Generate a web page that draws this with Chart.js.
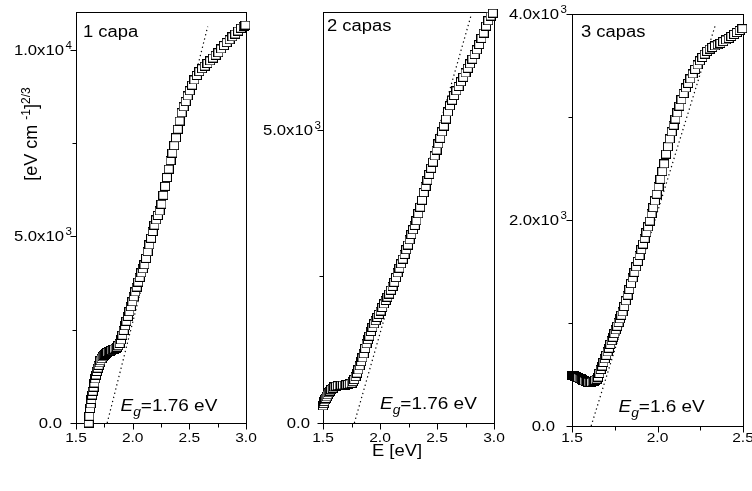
<!DOCTYPE html>
<html><head><meta charset="utf-8">
<script src="https://cdn.jsdelivr.net/npm/chart.js@4.4.0/dist/chart.umd.min.js"></script>
<style>
html,body{margin:0;padding:0;background:#fff;}
#wrap{position:relative;width:752px;height:491px;overflow:hidden;background:#fff;}
canvas{position:absolute;left:0;top:0;}
</style></head><body>
<div id="wrap">
<canvas id="c1" width="752" height="491"></canvas>
<canvas id="c2" width="752" height="491"></canvas>
<canvas id="c3" width="752" height="491"></canvas>
</div>
<script>
// ---------- data: panel 1 (1 capa) ----------
const E1 = [1.612,1.618,1.624,1.630,1.636,1.642,1.648,1.655,1.662,1.669,1.676,1.684,1.692,1.700,1.708,1.716,1.725,1.735,1.745,1.755,1.765,1.777,1.789,1.801,1.813,1.825,1.837,1.849,1.861,1.873,1.885,1.897,1.909,1.921,1.933,1.945,1.958,1.971,1.984,1.997,2.010,2.023,2.036,2.049,2.062,2.076,2.090,2.104,2.118,2.132,2.147,2.162,2.177,2.192,2.207,2.222,2.238,2.254,2.270,2.286,2.302,2.318,2.334,2.350,2.366,2.382,2.398,2.414,2.432,2.450,2.468,2.486,2.504,2.524,2.544,2.566,2.588,2.612,2.636,2.660,2.684,2.708,2.732,2.756,2.780,2.805,2.830,2.855,2.880,2.905,2.930,2.955,2.980,2.995];
const Y1 = [0,180,390,510,630,750,850,960,1070,1180,1285,1380,1470,1545,1610,1665,1720,1770,1810,1845,1867,1890,1910,1925,1942,1958,1980,2005,2035,2070,2130,2224,2350,2480,2605,2725,2855,2983,3115,3245,3380,3510,3640,3775,3900,4020,4130,4240,4410,4590,4770,4948,5130,5300,5440,5560,5680,5860,6100,6340,6575,6800,7030,7230,7430,7640,7870,8090,8310,8470,8610,8760,8900,9050,9189,9310,9412,9490,9560,9630,9700,9775,9850,9920,10020,10110,10190,10265,10345,10420,10500,10575,10630,10660];
// ---------- data: panel 2 (2 capas) ----------
const E2 = [1.500,1.506,1.512,1.518,1.524,1.532,1.540,1.550,1.560,1.572,1.585,1.600,1.615,1.630,1.645,1.660,1.675,1.690,1.705,1.720,1.735,1.750,1.762,1.774,1.786,1.798,1.810,1.822,1.834,1.846,1.858,1.870,1.882,1.894,1.906,1.920,1.934,1.948,1.962,1.976,1.990,2.005,2.020,2.035,2.050,2.065,2.080,2.095,2.110,2.125,2.140,2.155,2.170,2.185,2.200,2.215,2.230,2.245,2.260,2.275,2.290,2.305,2.320,2.336,2.352,2.368,2.384,2.400,2.416,2.432,2.448,2.464,2.480,2.496,2.512,2.528,2.544,2.560,2.578,2.596,2.614,2.632,2.650,2.670,2.690,2.710,2.730,2.750,2.770,2.790,2.810,2.830,2.850,2.870,2.890,2.910,2.930,2.950,2.970,2.990];
const Y2 = [290,330,365,395,420,445,480,515,545,570,595,615,628,636,641,644,646,648,652,658,666,678,705,740,790,850,905,975,1045,1110,1180,1270,1350,1420,1480,1560,1630,1690,1745,1800,1852,1910,1970,2030,2090,2145,2200,2265,2330,2400,2480,2560,2640,2715,2795,2875,2955,3035,3125,3215,3295,3370,3450,3570,3680,3800,3930,4035,4140,4240,4345,4450,4555,4655,4760,4855,4965,5065,5185,5305,5410,5505,5585,5665,5740,5820,5895,5970,6050,6125,6205,6285,6365,6455,6560,6650,6770,6860,6940,6990];
// ---------- data: panel 3 (3 capas) ----------
const E3 = [1.500,1.506,1.512,1.518,1.524,1.530,1.537,1.544,1.551,1.558,1.565,1.572,1.580,1.588,1.596,1.604,1.612,1.620,1.628,1.636,1.644,1.652,1.660,1.668,1.676,1.684,1.692,1.700,1.708,1.716,1.724,1.732,1.740,1.748,1.756,1.764,1.772,1.780,1.788,1.796,1.805,1.815,1.825,1.835,1.845,1.855,1.865,1.875,1.885,1.895,1.905,1.915,1.925,1.935,1.945,1.955,1.965,1.975,1.985,1.995,2.006,2.017,2.028,2.039,2.050,2.061,2.072,2.083,2.094,2.105,2.116,2.128,2.140,2.153,2.166,2.179,2.192,2.206,2.220,2.234,2.248,2.262,2.276,2.290,2.305,2.320,2.336,2.352,2.368,2.384,2.400,2.416,2.432,2.448,2.464,2.480,2.496];
const Y3 = [490,490,487,484,480,475,470,465,460,452,445,438,432,428,425,423,424,428,435,445,455,475,510,548,582,617,652,686,719,755,792,828,862,897,933,968,1004,1040,1075,1108,1160,1215,1270,1325,1382,1437,1492,1545,1598,1655,1712,1766,1822,1878,1933,1990,2062,2120,2185,2250,2323,2395,2470,2545,2640,2712,2787,2856,2920,2980,3040,3105,3168,3228,3282,3326,3370,3418,3462,3505,3545,3578,3610,3637,3660,3675,3690,3702,3715,3732,3748,3763,3782,3802,3820,3840,3858];
// ---------- tangent (band-gap) lines ----------
const tanE1 = [1.775, 2.662], tanY1 = [0, 10617];
const tanE2 = [1.775, 2.800], tanY2 = [0, 6960];
const tanE3 = [1.612, 2.337], tanY3 = [0, 3886];
// ---------- texts & ticks ----------
const panelTitles = ['1 capa', '2 capas', '3 capas'];
const gapValues = ['1.76', '1.76', '1.6'];
const xTitle = 'E [eV]';
const xTicks1 = [1.5, 2.0, 2.5, 3.0], xTickLabels1 = ['1.5','2.0','2.5','3.0'], xMinor1 = [1.75, 2.25, 2.75];
const xTicks2 = [1.5, 2.0, 2.5, 3.0], xTickLabels2 = ['1.5','2.0','2.5','3.0'], xMinor2 = [1.75, 2.25, 2.75];
const xTicks3 = [1.5, 2.0, 2.5], xTickLabels3 = ['1.5','2.0','2.5'], xMinor3 = [1.75, 2.25];
const yTicks1 = [0, 5000, 10000], yTickLabels1 = ['0.0','5.0x10^3','1.0x10^4'], yMinor1 = [2500, 7500];
const yTicks2 = [0, 5000], yTickLabels2 = ['0.0','5.0x10^3'], yMinor2 = [2500];
const yTicks3 = [0, 2000, 4000], yTickLabels3 = ['0.0','2.0x10^3','4.0x10^3'], yMinor3 = [1000, 3000];

const FONT = '"Liberation Sans", Arial, Helvetica, sans-serif';
const SX = 1.15;

// open-square marker (slightly wider than tall, as in the original)
const marker = document.createElement('canvas');
marker.width = 10; marker.height = 9;
(function () {
  const m = marker.getContext('2d');
  m.fillStyle = '#fff'; m.fillRect(0, 0, 10, 9);
  m.strokeStyle = '#000'; m.lineWidth = 1; m.strokeRect(0.5, 0.5, 9, 8);
})();

function richWidth(ctx, segs) {
  let w = 0;
  for (const s of segs) { ctx.font = (s.it ? 'italic ' : '') + s.sz + 'px ' + FONT; w += ctx.measureText(s.t).width * SX; }
  return w;
}
function rich(ctx, segs, x, y, align) {
  const w = richWidth(ctx, segs);
  let cx = align === 'right' ? x - w : align === 'center' ? x - w / 2 : x;
  ctx.fillStyle = '#000'; ctx.textAlign = 'left'; ctx.textBaseline = 'alphabetic';
  for (const s of segs) {
    ctx.font = (s.it ? 'italic ' : '') + s.sz + 'px ' + FONT;
    const sw = ctx.measureText(s.t).width * SX;
    ctx.save(); ctx.translate(cx + (s.dx || 0), y + (s.dy || 0)); ctx.scale(SX, 1); ctx.fillText(s.t, 0, 0); ctx.restore();
    cx += sw + (s.dx || 0);
  }
  return w;
}
function labelSegs(lbl) {
  const p = lbl.split('^');
  const segs = [{t: p[0], sz: 14.5}];
  if (p[1]) segs.push({t: p[1], sz: 10, dy: -6, dx: 1.5});
  return segs;
}

function makePlugin(cfg) {
  return {
    id: 'origin' + cfg.idx,
    beforeDatasetsDraw(chart) {
      const ctx = chart.ctx, a = chart.chartArea;
      const xs = chart.scales.x, ys = chart.scales.y;
      ctx.save();
      ctx.strokeStyle = '#000'; ctx.lineWidth = 1;
      ctx.strokeRect(Math.round(a.left) + 0.5, Math.round(a.top) + 0.5, Math.round(a.right - a.left), Math.round(a.bottom - a.top));
      const B = Math.round(a.bottom) + 0.5, L = Math.round(a.left) + 0.5;
      ctx.beginPath();
      cfg.xTicks.forEach(v => { const px = Math.round(xs.getPixelForValue(v)) + 0.5; ctx.moveTo(px, B); ctx.lineTo(px, B + 6); });
      cfg.xMinor.forEach(v => { const px = Math.round(xs.getPixelForValue(v)) + 0.5; ctx.moveTo(px, B); ctx.lineTo(px, B + 4); });
      cfg.yTicks.forEach(v => { const py = Math.round(ys.getPixelForValue(v)) + 0.5; ctx.moveTo(L, py); ctx.lineTo(L - 6, py); });
      cfg.yMinor.forEach(v => { const py = Math.round(ys.getPixelForValue(v)) + 0.5; ctx.moveTo(L, py); ctx.lineTo(L - 4, py); });
      ctx.stroke();
      cfg.xTicks.forEach((v, i) => rich(ctx, [{t: cfg.xLabels[i], sz: 13.5}], xs.getPixelForValue(v), 442, 'center'));
      cfg.yTicks.forEach((v, i) => {
        const segs = labelSegs(cfg.yLabels[i]);
        const py = ys.getPixelForValue(v) + 5;
        if (segs.length > 1) {
          const w0 = richWidth(ctx, [segs[0]]);
          rich(ctx, segs, a.left - cfg.gapSup - w0, py, 'left');
        } else {
          rich(ctx, segs, a.left - cfg.gapPlain, py, 'right');
        }
      });
      rich(ctx, [{t: cfg.title, sz: 16}], cfg.titleX, cfg.titleY, 'left');
      rich(ctx, [{t: 'E', sz: 16.5, it: true}, {t: 'g', sz: 12, it: true, dy: 5}, {t: '=' + cfg.gap + ' eV', sz: 16.5}], cfg.gapX, cfg.gapY, 'left');
      if (cfg.idx === 1) {
        ctx.translate(37, 134); ctx.rotate(-Math.PI / 2);
        const segs = [{t: '[eV cm ', sz: 18}, {t: '-1', sz: 12, dy: -7}, {t: ']', sz: 18}, {t: '2/3', sz: 12, dy: -7}];
        let w = 0; segs.forEach(s => { ctx.font = s.sz + 'px ' + FONT; w += ctx.measureText(s.t).width; });
        let cx = -w / 2;
        ctx.fillStyle = '#000'; ctx.textBaseline = 'alphabetic'; ctx.textAlign = 'left';
        segs.forEach(s => { ctx.font = s.sz + 'px ' + FONT; ctx.fillText(s.t, cx, s.dy || 0); cx += ctx.measureText(s.t).width; });
      }
      ctx.restore();
      if (cfg.idx === 2) {
        ctx.save();
        rich(ctx, [{t: xTitle, sz: 16}], 397, 456, 'center');
        ctx.restore();
      }
    }
  };
}

function makeChart(id, cfg) {
  const pts = cfg.E.map((e, i) => ({x: e, y: cfg.Y[i]}));
  const tan = cfg.tE.map((e, i) => ({x: e, y: cfg.tY[i]}));
  return new Chart(document.getElementById(id), {
    type: 'scatter',
    data: {
      datasets: [
        {data: pts, pointStyle: marker, pointRadius: 5, pointHoverRadius: 5, backgroundColor: '#fff', borderColor: '#000', borderWidth: 1, showLine: false, clip: false},
        {data: tan, showLine: true, pointRadius: 0, borderColor: '#000', borderWidth: 1.2, borderDash: [1.3, 3], fill: false, clip: false}
      ]
    },
    options: {
      responsive: false, animation: false, devicePixelRatio: 1, events: [],
      layout: {padding: cfg.pad},
      plugins: {legend: {display: false}, tooltip: {enabled: false}},
      scales: {
        x: {type: 'linear', display: false, min: cfg.xr[0], max: cfg.xr[1]},
        y: {type: 'linear', display: false, min: cfg.yr[0], max: cfg.yr[1]}
      }
    },
    plugins: [makePlugin(cfg)]
  });
}

makeChart('c1', {idx: 1, E: E1, Y: Y1, tE: tanE1, tY: tanY1, pad: {left: 76, right: 506, top: 12, bottom: 68}, xr: [1.5, 3.0], yr: [0, 11010],
  xTicks: xTicks1, xLabels: xTickLabels1, xMinor: xMinor1, yTicks: yTicks1, yLabels: yTickLabels1, yMinor: yMinor1,
  gapPlain: 14, gapSup: 12, title: panelTitles[0], titleX: 83, titleY: 37, gap: gapValues[0], gapX: 120.5, gapY: 411});
makeChart('c2', {idx: 2, E: E2, Y: Y2, tE: tanE2, tY: tanY2, pad: {left: 323, right: 258, top: 12, bottom: 68}, xr: [1.5, 3.0], yr: [0, 7010],
  xTicks: xTicks2, xLabels: xTickLabels2, xMinor: xMinor2, yTicks: yTicks2, yLabels: yTickLabels2, yMinor: yMinor2,
  gapPlain: 13, gapSup: 10, title: panelTitles[1], titleX: 327, titleY: 31, gap: gapValues[1], gapX: 380, gapY: 409});
makeChart('c3', {idx: 3, E: E3, Y: Y3, tE: tanE3, tY: tanY3, pad: {left: 572, right: 9, top: 14, bottom: 65}, xr: [1.5, 2.5], yr: [0, 4000],
  xTicks: xTicks3, xLabels: xTickLabels3, xMinor: xMinor3, yTicks: yTicks3, yLabels: yTickLabels3, yMinor: yMinor3,
  gapPlain: 17, gapSup: 13, title: panelTitles[2], titleX: 581, titleY: 37, gap: gapValues[2], gapX: 618.5, gapY: 412});
</script>
</body></html>
